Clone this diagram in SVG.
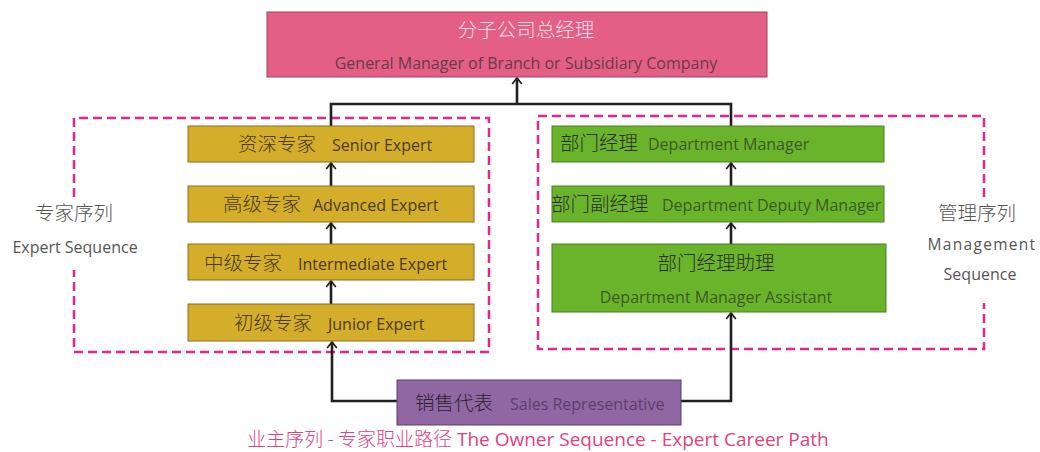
<svg xmlns="http://www.w3.org/2000/svg" width="1040" height="452" viewBox="0 0 1040 452">
<style>
.en{font-family:"Open Sans","Noto Sans",sans-serif;}
.zh{font-family:"Noto Sans CJK SC",sans-serif;font-weight:300;}
.gold{fill:#d4ad2a;stroke:#8a7020;stroke-width:1;}
.green{fill:#6ab42c;stroke:#4c7d22;stroke-width:1;}
.dash{fill:none;stroke:#e2268b;stroke-width:2.5;stroke-dasharray:9 5;}
.ln{fill:none;stroke:#231f20;stroke-width:2.6;}
.gt{fill:#4a3c22;}
.mt{fill:#3b5a26;}
</style>
<defs>
<marker id="ah" viewBox="0 0 10 14" refX="8.5" refY="7" markerWidth="8" markerHeight="12" markerUnits="userSpaceOnUse" orient="auto">
<path d="M1,1 L8.5,7 L1,13" fill="none" stroke="#231f20" stroke-width="2.2"/>
</marker>
</defs>
<rect width="1040" height="452" fill="#ffffff"/>

<g id="sequences">
<path class="dash" d="M74,197 V118 H489 V352 H74 V270"/>
<path class="dash" d="M984,197 V116 H538 V349 H984 V303"/>
<text class="zh" x="74" y="220" font-size="19.5" text-anchor="middle" fill="#555">专家序列</text>
<text class="en" x="75" y="253" font-size="16" text-anchor="middle" fill="#555">Expert Sequence</text>
<text class="zh" x="977" y="220" font-size="19.5" text-anchor="middle" fill="#555">管理序列</text>
<text class="en" x="982" y="250" font-size="15.5" text-anchor="middle" fill="#555" letter-spacing="1.3">Management</text>
<text class="en" x="980" y="280" font-size="16" text-anchor="middle" fill="#555">Sequence</text>
</g>

<g id="connectors">
<path class="ln" d="M331,126 V104 H731 V126"/>
<path class="ln" d="M517,104 V78" marker-end="url(#ah)"/>
<path class="ln" d="M331,186 V163" marker-end="url(#ah)"/>
<path class="ln" d="M331,244 V223" marker-end="url(#ah)"/>
<path class="ln" d="M331,304 V281" marker-end="url(#ah)"/>
<path class="ln" d="M731,186 V163" marker-end="url(#ah)"/>
<path class="ln" d="M731,244 V223" marker-end="url(#ah)"/>
<path class="ln" d="M397,401 H332 V342" marker-end="url(#ah)"/>
<path class="ln" d="M681,401 H731 V313" marker-end="url(#ah)"/>
</g>

<g id="gm">
<rect x="267" y="12" width="500" height="65" fill="#e45f86" stroke="#a04060" stroke-width="1"/>
<text class="zh" x="526" y="37" font-size="19.5" text-anchor="middle" fill="#f8dde6">分子公司总经理</text>
<text class="en" x="526" y="69" font-size="16" text-anchor="middle" fill="#6a3a48">General Manager of Branch or Subsidiary Company</text>
</g>

<g id="senior">
<rect class="gold" x="188" y="126" width="286" height="36"/>
<text x="0" y="151" font-size="19.5"><tspan class="zh gt" x="238">资深专家</tspan><tspan class="en gt" x="332" font-size="16">Senior Expert</tspan></text>
</g>
<g id="advanced">
<rect class="gold" x="188" y="186" width="286" height="36"/>
<text x="0" y="211" font-size="19.5"><tspan class="zh gt" x="223">高级专家</tspan><tspan class="en gt" x="313" font-size="16">Advanced Expert</tspan></text>
</g>
<g id="intermediate">
<rect class="gold" x="188" y="244" width="286" height="36"/>
<text x="0" y="270" font-size="19.5"><tspan class="zh gt" x="204">中级专家</tspan><tspan class="en gt" x="298" font-size="16">Intermediate Expert</tspan></text>
</g>
<g id="junior">
<rect class="gold" x="188" y="304" width="286" height="37"/>
<text x="0" y="330" font-size="19.5"><tspan class="zh gt" x="234">初级专家</tspan><tspan class="en gt" x="328" font-size="16">Junior Expert</tspan></text>
</g>

<g id="deptmgr">
<rect class="green" x="552" y="126" width="332" height="36"/>
<text x="0" y="150" font-size="19.5"><tspan class="zh" fill="#2e2e2e" x="560">部门经理</tspan><tspan class="en mt" x="648" font-size="16">Department Manager</tspan></text>
</g>
<g id="deputy">
<rect class="green" x="552" y="186" width="332" height="36"/>
<text x="0" y="211" font-size="19.5"><tspan class="zh" fill="#2e2e2e" x="551">部门副经理</tspan><tspan class="en mt" x="662" font-size="16">Department Deputy Manager</tspan></text>
</g>
<g id="assistant">
<rect class="green" x="552" y="244" width="334" height="68"/>
<text class="zh" x="716" y="270" font-size="19.5" text-anchor="middle" fill="#2e2e2e">部门经理助理</text>
<text class="en mt" x="716" y="303" font-size="16" text-anchor="middle">Department Manager Assistant</text>
</g>

<g id="sales">
<rect x="397" y="380" width="284" height="45" fill="#9067a3" stroke="#5a3c68" stroke-width="1"/>
<text x="0" y="410" font-size="19.5"><tspan class="zh" fill="#2e2232" x="415">销售代表</tspan><tspan class="en" fill="#5c3f6c" x="510" font-size="16">Sales Representative</tspan></text>
</g>

<text class="en" x="538" y="446" font-size="19" text-anchor="middle" fill="#e2407f"><tspan class="zh" font-weight="400">业主序列 - 专家职业路径</tspan> The Owner Sequence - Expert Career Path</text>
</svg>
